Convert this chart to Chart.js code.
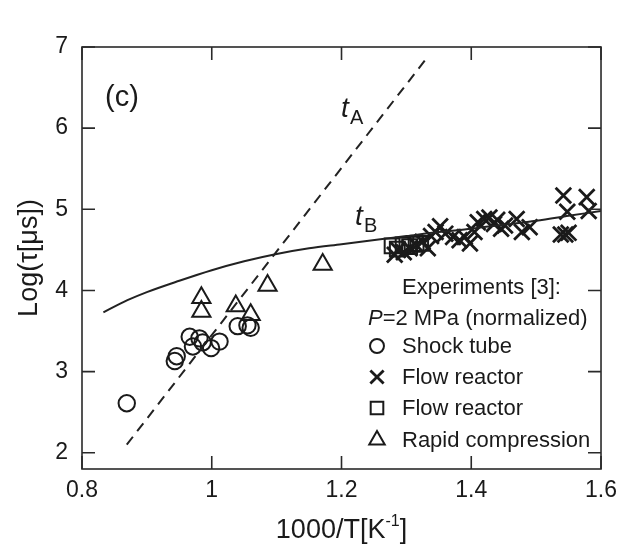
<!DOCTYPE html>
<html>
<head>
<meta charset="utf-8">
<script src="https://cdn.jsdelivr.net/npm/chart.js@4/dist/chart.umd.min.js"></script>
<style>
html,body{margin:0;padding:0;background:#fff;}
#wrap{width:625px;height:548px;position:relative;}
</style>
</head>
<body>
<div id="wrap"><canvas id="c" width="625" height="548"></canvas></div>
<script>
// ---- data ----
const xTicks = [0.8, 1.0, 1.2, 1.4, 1.6];
const yTicks = [2, 3, 4, 5, 6, 7];

// t_A (dashed line)
const tA_x = [0.869, 1.333];
const tA_y = [2.10, 6.88];

// t_B (solid curve)
const tB_x = [0.833, 0.87, 0.9, 0.95, 1.0, 1.05, 1.1, 1.15, 1.2, 1.26, 1.3, 1.35, 1.4, 1.45, 1.5, 1.55, 1.6];
const tB_y = [3.73, 3.88, 3.98, 4.12, 4.25, 4.36, 4.45, 4.52, 4.57, 4.63, 4.67, 4.72, 4.76, 4.81, 4.86, 4.92, 4.98];

// Shock tube (circles)
const shock_x = [0.869, 0.943, 0.946, 0.966, 0.971, 0.981, 0.986, 0.999, 1.012, 1.040, 1.055, 1.060];
const shock_y = [2.61, 3.13, 3.19, 3.43, 3.31, 3.41, 3.36, 3.29, 3.37, 3.56, 3.57, 3.54];

// Flow reactor (crosses)
const flowX_x = [1.282, 1.287, 1.296, 1.305, 1.315, 1.325, 1.333, 1.338, 1.345, 1.352, 1.360, 1.372, 1.382, 1.390, 1.398, 1.405, 1.410, 1.420, 1.428, 1.435, 1.440, 1.446, 1.452, 1.470, 1.478, 1.490, 1.538, 1.545, 1.550, 1.542, 1.548, 1.578, 1.581];
const flowX_y = [4.44, 4.50, 4.47, 4.52, 4.56, 4.60, 4.52, 4.67, 4.72, 4.79, 4.70, 4.66, 4.62, 4.66, 4.58, 4.72, 4.84, 4.88, 4.90, 4.82, 4.87, 4.76, 4.80, 4.88, 4.72, 4.78, 4.69, 4.69, 4.71, 5.17, 4.97, 5.15, 4.98];

// Flow reactor (squares)
const flowS_x = [1.278, 1.286, 1.295, 1.305, 1.315, 1.322];
const flowS_y = [4.55, 4.51, 4.56, 4.54, 4.57, 4.58];

// Rapid compression (triangles)
const rapid_x = [0.984, 0.984, 1.037, 1.060, 1.086, 1.171];
const rapid_y = [3.91, 3.74, 3.81, 3.70, 4.06, 4.32];

const legendLines = ["Experiments [3]:", "=2 MPa (normalized)"];
const legendItems = ["Shock tube", "Flow reactor", "Flow reactor", "Rapid compression"];

// ---- helpers ----
const pts = (xs, ys) => xs.map((x, i) => ({x: x, y: ys[i]}));
const INK = '#1a1a1a';
const FONT = '"Liberation Sans", Arial, sans-serif';

const markerStyles = [
  {pointStyle: 'circle', radius: 8.2, borderWidth: 2},
  {pointStyle: 'crossRot', radius: 11, borderWidth: 2.8},
  {pointStyle: 'rect', radius: 10.5, borderWidth: 2},
  {pointStyle: 'triangle', radius: 10.5, borderWidth: 2}
];

const decor = {
  id: 'decor',
  afterDraw(chart) {
    const ctx = chart.ctx;
    const a = chart.chartArea;
    const xs = chart.scales.x, ys = chart.scales.y;
    ctx.save();
    // frame
    ctx.strokeStyle = '#2a2a2a';
    ctx.lineWidth = 1.6;
    ctx.strokeRect(a.left, a.top, a.right - a.left, a.bottom - a.top);
    // inward ticks
    const TL = 13;
    ctx.beginPath();
    xTicks.forEach(v => {
      const px = xs.getPixelForValue(v);
      ctx.moveTo(px, a.bottom); ctx.lineTo(px, a.bottom - TL);
      ctx.moveTo(px, a.top); ctx.lineTo(px, a.top + TL);
    });
    yTicks.forEach(v => {
      const py = ys.getPixelForValue(v);
      ctx.moveTo(a.left, py); ctx.lineTo(a.left + TL, py);
      ctx.moveTo(a.right, py); ctx.lineTo(a.right - TL, py);
    });
    ctx.stroke();

    ctx.fillStyle = INK;
    ctx.textBaseline = 'alphabetic';
    ctx.textAlign = 'left';
    // panel label
    ctx.font = '29px ' + FONT;
    ctx.fillText('(c)', 105, 106);
    // t_A
    ctx.font = 'italic 28px ' + FONT;
    ctx.fillText('t', 341, 117);
    ctx.font = '20px ' + FONT;
    ctx.fillText('A', 350, 124);
    // t_B
    ctx.font = 'italic 28px ' + FONT;
    ctx.fillText('t', 355, 225);
    ctx.font = '20px ' + FONT;
    ctx.fillText('B', 364, 232);

    // legend
    ctx.font = '22px ' + FONT;
    ctx.fillText(legendLines[0], 402, 294);
    ctx.font = 'italic 22px ' + FONT;
    ctx.fillText('P', 368, 325);
    const pw = ctx.measureText('P').width;
    ctx.font = '22px ' + FONT;
    ctx.fillText(legendLines[1], 368 + pw, 325);
    const rowsY = [346, 377, 408, 440];
    legendItems.forEach((t, i) => {
      const st = markerStyles[i];
      ctx.strokeStyle = INK;
      ctx.fillStyle = 'rgba(0,0,0,0)';
      ctx.lineWidth = st.borderWidth;
      Chart.helpers.drawPoint(ctx, {pointStyle: st.pointStyle, radius: st.radius * 0.85, rotation: 0, borderWidth: st.borderWidth}, 377, rowsY[i]);
      ctx.fillStyle = INK;
      ctx.fillText(t, 402, rowsY[i] + 7);
    });

    // axis titles
    const main = '1000/T[K';
    const sup = '-1';
    const close = ']';
    ctx.font = '27px ' + FONT;
    const w1 = ctx.measureText(main).width;
    ctx.font = '16px ' + FONT;
    const w2 = ctx.measureText(sup).width;
    ctx.font = '27px ' + FONT;
    const w3 = ctx.measureText(close).width;
    const tot = w1 + w2 + w3;
    const cx = (a.left + a.right) / 2;
    const sx = cx - tot / 2;
    const by = 538;
    ctx.fillText(main, sx, by);
    ctx.font = '16px ' + FONT;
    ctx.fillText(sup, sx + w1, by - 12);
    ctx.font = '27px ' + FONT;
    ctx.fillText(close, sx + w1 + w2, by);

    ctx.translate(37, (a.top + a.bottom) / 2);
    ctx.rotate(-Math.PI / 2);
    ctx.textAlign = 'center';
    ctx.font = '27px ' + FONT;
    ctx.fillText('Log(\u03C4[\u03BCs])', 0, 0);
    ctx.restore();
  }
};

const ds = (label, data, st) => ({
  label: label, data: data, showLine: false,
  pointStyle: st.pointStyle, pointRadius: st.radius, pointHoverRadius: st.radius,
  pointBorderWidth: st.borderWidth, borderColor: INK, backgroundColor: 'rgba(0,0,0,0)'
});

new Chart(document.getElementById('c'), {
  type: 'scatter',
  data: {
    datasets: [
      {label: 'tA', data: pts(tA_x, tA_y), showLine: true, borderColor: '#222', borderWidth: 2,
       borderDash: [10, 7], pointRadius: 0, fill: false},
      {label: 'tB', data: pts(tB_x, tB_y), showLine: true, borderColor: '#222', borderWidth: 2,
       tension: 0.4, cubicInterpolationMode: 'monotone', pointRadius: 0, fill: false},
      ds('Shock tube', pts(shock_x, shock_y), markerStyles[0]),
      ds('Flow reactor X', pts(flowX_x, flowX_y), markerStyles[1]),
      ds('Flow reactor sq', pts(flowS_x, flowS_y), markerStyles[2]),
      ds('Rapid compression', pts(rapid_x, rapid_y), markerStyles[3])
    ]
  },
  options: {
    responsive: false,
    animation: false,
    layout: {padding: {top: 47, right: 21, left: 0, bottom: 0}},
    plugins: {legend: {display: false}, tooltip: {enabled: false}},
    scales: {
      x: {
        type: 'linear', min: 0.8, max: 1.6,
        afterBuildTicks: s => { s.ticks = xTicks.map(v => ({value: v})); },
        afterFit: s => { s.height = 79; },
        grid: {display: false, drawTicks: false},
        border: {display: false},
        ticks: {padding: 8, color: INK, font: {family: FONT, size: 23},
                callback: v => (v === 1 ? '1' : v.toFixed(1)), maxRotation: 0, autoSkip: false}
      },
      y: {
        type: 'linear', min: 1.8, max: 7,
        afterBuildTicks: s => { s.ticks = yTicks.map(v => ({value: v})); },
        afterFit: s => { s.width = 82; },
        grid: {display: false, drawTicks: false},
        border: {display: false},
        ticks: {padding: 14, color: INK, font: {family: FONT, size: 23},
                callback: v => String(v), autoSkip: false}
      }
    }
  },
  plugins: [decor]
});
</script>
</body>
</html>
